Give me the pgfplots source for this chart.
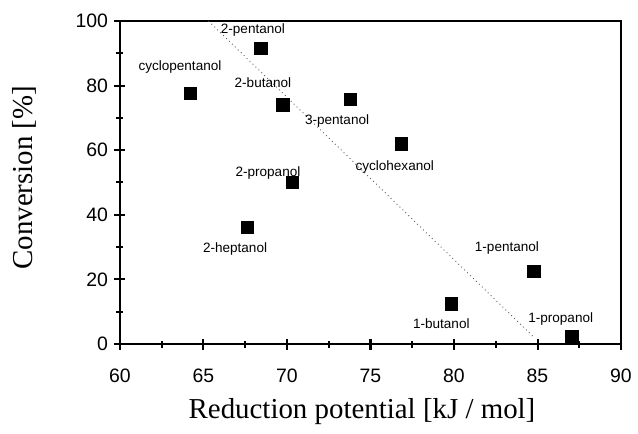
\documentclass[border=0pt]{standalone}
\usepackage{fontspec}
\setmainfont{Liberation Sans}
\newfontfamily\seriffont{Liberation Serif}
\usepackage{pgfplots}
\pgfplotsset{compat=1.18}
\begin{document}
\begin{tikzpicture}
\begin{axis}[
  scale only axis,
  width=501bp, height=323bp,
  xmin=60, xmax=90, ymin=0, ymax=100,
  axis lines=box,
  axis line style={line width=2.4bp, black},
  xtick=\empty, ytick=\empty,
]
\end{axis}
\begin{axis}[
  scale only axis,
  width=501bp, height=323bp,
  xmin=60, xmax=90, ymin=0, ymax=100,
  axis line style={line width=2.4bp, solid, black},
  xtick pos=left, ytick pos=left,
  xtick={60,65,...,90}, ytick={0,20,...,100},
  minor xtick={62.5,67.5,...,87.5},
  minor ytick={10,30,...,90},
  tick align=center,
  major tick length=11bp, minor tick length=7bp,
  tick style={black, line width=2bp, solid},
  /pgf/number format/assume math mode=true,
  tick label style={font=\fontsize{19.5}{22}\selectfont},
  xticklabel style={yshift=-16bp},
  yticklabel style={xshift=-3bp},
  xlabel={Reduction potential [kJ / mol]},
  ylabel={Conversion [\%]},
  label style={font=\seriffont\fontsize{29}{32}\selectfont},
  xlabel style={at={(axis description cs:0.483,-0.208)}, anchor=center},
  ylabel style={at={(axis description cs:-0.19,0.515)}, anchor=center},
  clip=false,
  axis on top=false,
]
\addplot[only marks, mark=square*, mark size=6bp, mark options={solid, fill=black, draw=black, line width=1.2bp}] coordinates {
(64.23,77.6) (68.44,91.5) (69.76,74.0) (70.34,50.1) (73.79,75.8)
(76.85,61.9) (67.62,36.1) (84.79,22.4) (79.86,12.4) (87.07,2.3)
};
\addplot[gray!70!black, line width=0.9bp, dash pattern=on 0.9bp off 3.2bp] coordinates {(65.3,100) (84.8,2)};
\begin{scope}[every node/.style={font=\fontsize{13.6}{15}\selectfont, inner sep=0pt}]
\node at (axis cs:67.96,97.2) {2-pentanol};
\node at (axis cs:63.59,85.9) {cyclopentanol};
\node at (axis cs:68.56,80.9) {2-butanol};
\node at (axis cs:68.86,52.8) {2-propanol};
\node at (axis cs:73.0,69.0) {3-pentanol};
\node at (axis cs:76.45,54.9) {cyclohexanol};
\node at (axis cs:66.89,29.3) {2-heptanol};
\node at (axis cs:83.17,29.8) {1-pentanol};
\node at (axis cs:79.24,6.2) {1-butanol};
\node at (axis cs:86.39,7.7) {1-propanol};
\end{scope}
\end{axis}
\pgfresetboundingbox
\path[use as bounding box] (-120bp,-90bp) rectangle (518bp,344bp);
\end{tikzpicture}
\end{document}
